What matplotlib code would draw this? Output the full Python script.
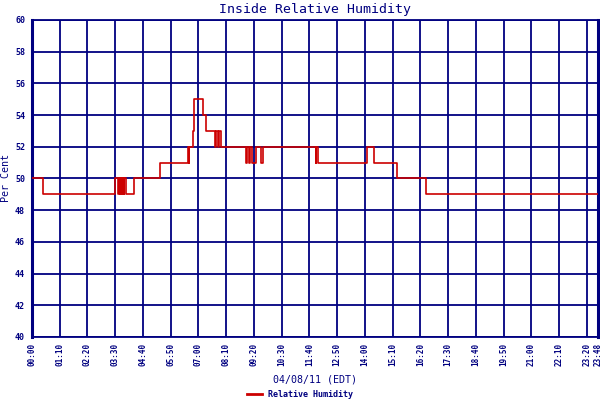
import matplotlib
matplotlib.use("Agg")
import matplotlib.pyplot as plt
from matplotlib.lines import Line2D

# minutes since midnight where the reading changes, and the new reading
minutes = [0, 29, 210, 218, 219, 222, 223, 226, 227, 231, 232, 237, 258, 323,
           393, 395, 397, 405, 409, 431, 438, 462, 464, 469, 471, 476,
           541, 543, 548, 549, 556, 564, 579, 582, 716, 717, 721,
           846, 864, 922, 994, 1428]
humidity = [50, 49, 50, 49, 50, 49, 50, 49, 50, 49, 50, 49, 50, 51,
            52, 51, 52, 53, 55, 54, 53, 52, 53, 52, 53, 52,
            51, 52, 51, 52, 51, 52, 51, 52, 51, 52, 51,
            52, 51, 50, 49, 49]

tick_minutes = list(range(0, 1401, 70)) + [1428]
tick_labels = ["%02d:%02d" % (m // 60, m % 60) for m in tick_minutes]
y_ticks = list(range(40, 61, 2))

navy = "#000080"
red = "#cc0000"
mono = "DejaVu Sans Mono"

fig = plt.figure(figsize=(6, 4), dpi=100)
ax = fig.add_axes([32 / 600, 1 - 337 / 400, 566 / 600, 317 / 400])

ax.step(minutes, humidity, where="post", color=red, lw=1.2, zorder=3)

ax.set_xlim(0, 1428)
ax.set_ylim(40, 60)
ax.set_xticks(tick_minutes)
ax.set_xticklabels(tick_labels, rotation=90, fontsize=5.5, fontweight="bold",
                   family=mono, color=navy)
ax.set_yticks(y_ticks)
ax.set_yticklabels([str(v) for v in y_ticks], fontsize=6, fontweight="bold",
                   family=mono, color=navy)
ax.tick_params(axis="x", length=0, pad=4)
ax.tick_params(axis="y", length=0, pad=5)
ax.grid(True, color=navy, lw=1.3)

for side in ["top", "bottom"]:
    ax.spines[side].set_color(navy)
    ax.spines[side].set_linewidth(1.3)
for side in ["left", "right"]:
    ax.spines[side].set_color(navy)
    ax.spines[side].set_linewidth(2.2)

ax.set_title("Inside Relative Humidity", fontsize=9.5, family=mono,
             color=navy, pad=5)
ax.set_ylabel("Per Cent", fontsize=7.2, family=mono, color=navy, labelpad=3)
ax.set_xlabel("04/08/11 (EDT)", fontsize=7.2, family=mono, color=navy,
              labelpad=6)

handle = Line2D([], [], color=red, lw=2)
leg = fig.legend([handle], ["Relative Humidity"], loc="lower center",
                 bbox_to_anchor=(0.5, -0.016), frameon=False, handlelength=1.8,
                 prop={"family": mono, "size": 6, "weight": "bold"})
for t in leg.get_texts():
    t.set_color(navy)

fig.savefig("out.png", dpi=100)
